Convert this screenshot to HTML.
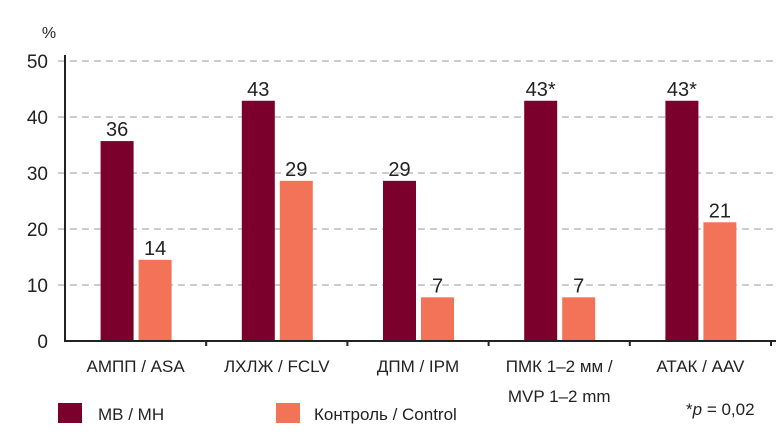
<!DOCTYPE html>
<html><head><meta charset="utf-8"><style>
body{margin:0;background:#fff;}
svg{display:block;font-family:"Liberation Sans Narrow","Liberation Sans",sans-serif;}
</style></head><body>
<svg id="chart" width="783" height="437" viewBox="0 0 783 437"></svg>
<script>
const categories1 = ["АМПП / ASA","ЛХЛЖ / FCLV","ДПМ / IPM","ПМК 1–2 мм /","АТАК / AAV"];
const categories2 = ["","","","MVP 1–2 mm",""];
const seriesMB = [35.7, 42.9, 28.6, 42.9, 42.9];
const seriesControl = [14.5, 28.6, 7.8, 7.8, 21.2];
const labelsMB = ["36","43","29","43*","43*"];
const labelsControl = ["14","29","7","7","21"];
const yTicks = [0,10,20,30,40,50];

const svg = document.getElementById('chart');
const NS = 'http://www.w3.org/2000/svg';
const x0 = 65, x1 = 771, yBase = 341, yTop = 61, yMax = 50;
const catW = (x1 - x0) / categories1.length;
const y = v => yBase - (v / yMax) * (yBase - yTop);
const catC = i => x0 + catW * (i + 0.5);
function mk(tag, attrs, text){
  const e = document.createElementNS(NS, tag);
  for (const k in attrs) e.setAttribute(k, attrs[k]);
  if (text !== undefined) e.textContent = text;
  svg.appendChild(e);
  return e;
}
yTicks.forEach(t => {
  if (t > 0) {
    const g = mk('line',{x1:58,x2:775,y1:y(t),y2:y(t),stroke:'#bbbbbd','stroke-width':1.5,'stroke-dasharray':'7,5'});
    
    
  }
  const l = mk('text',{x:48,y:y(t)+7,'text-anchor':'end','font-size':19,fill:'#222'},String(t));
  
  
});
const pct = mk('text',{x:49,y:38,'text-anchor':'middle','font-size':16,fill:'#222'},'%');



const bw = 33;
categories1.forEach((c,i) => {
  const cx = catC(i);
  const b1 = mk('rect',{x:cx-2-bw,y:y(seriesMB[i]),width:bw,height:yBase-y(seriesMB[i]),fill:'#7b002c'});
  
  
  const b2 = mk('rect',{x:cx+3,y:y(seriesControl[i]),width:bw,height:yBase-y(seriesControl[i]),fill:'#f27357'});
  
  
  const t1 = mk('text',{x:cx-2-bw/2,y:y(seriesMB[i])-5,'text-anchor':'middle','font-size':20,fill:'#222'},labelsMB[i]);
  
  
  const t2 = mk('text',{x:cx+3+bw/2,y:y(seriesControl[i])-5,'text-anchor':'middle','font-size':20,fill:'#222'},labelsControl[i]);
  
  
  const c1 = mk('text',{x:cx,y:372,'text-anchor':'middle','font-size':17,fill:'#222'},c);
  
  
  if (categories2[i]) {
    const c2 = mk('text',{x:cx,y:402,'text-anchor':'middle','font-size':17,fill:'#222'},categories2[i]);
    
    
  }
  const tk = mk('line',{x1:x0+catW*(i+1),x2:x0+catW*(i+1),y1:yBase,y2:yBase+5,stroke:'#222','stroke-width':2});
  
  
});
const ya = mk('line',{x1:x0,x2:x0,y1:55,y2:yBase+1,stroke:'#222','stroke-width':2});


const xa = mk('line',{x1:x0-1,x2:776,y1:yBase,y2:yBase,stroke:'#222','stroke-width':2});



const lg1 = mk('rect',{x:58,y:403,width:24,height:20,fill:'#7b002c'});


const lt1 = mk('text',{x:98,y:420,'font-size':17,fill:'#222'},'МВ / МН');


const lg2 = mk('rect',{x:276,y:403,width:24,height:20,fill:'#f27357'});


const lt2 = mk('text',{x:314,y:420,'font-size':17,fill:'#222'},'Контроль / Control');


const note = mk('text',{x:686,y:415,'font-size':17,fill:'#222'});


note.innerHTML = '*<tspan font-style="italic">p</tspan> = 0,02';
</script>
</body></html>
